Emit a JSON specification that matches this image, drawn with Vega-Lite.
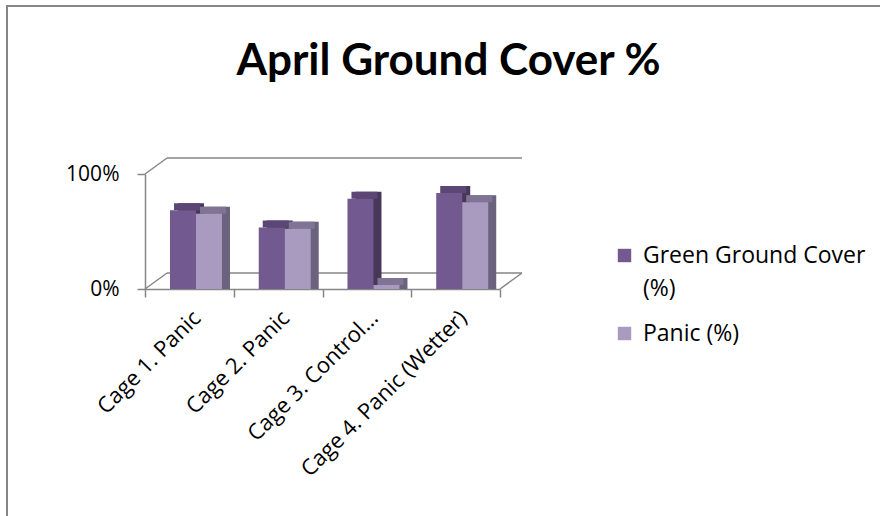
{
  "$schema": "https://vega.github.io/schema/vega-lite/v6.json",
  "usermeta": {"embedOptions": {"actions": false}},
  "autosize": "none",
  "padding": {"left": 7, "top": 6, "right": -20, "bottom": -20},
  "width": 893,
  "height": 530,
  "background": "white",
  "config": {
    "view": {"stroke": "#868686", "strokeWidth": 2},
    "font": "Open Sans"
  },
  "title": {
    "text": "April Ground Cover %",
    "font": "Lato",
    "fontSize": 44,
    "fontWeight": "bold",
    "color": "#000000",
    "anchor": "middle",
    "frame": "group",
    "offset": -113,
    "baseline": "alphabetic",
    "dx": -5
  },
  "datasets": {
    "bars": [
      {"category": "Cage 1. Panic", "series": "Green Ground Cover (%)", "value": 0.65},
      {"category": "Cage 1. Panic", "series": "Panic (%)", "value": 0.62},
      {"category": "Cage 2. Panic", "series": "Green Ground Cover (%)", "value": 0.50},
      {"category": "Cage 2. Panic", "series": "Panic (%)", "value": 0.49},
      {"category": "Cage 3. Control...", "series": "Green Ground Cover (%)", "value": 0.75},
      {"category": "Cage 3. Control...", "series": "Panic (%)", "value": 0},
      {"category": "Cage 4. Panic (Wetter)", "series": "Green Ground Cover (%)", "value": 0.80},
      {"category": "Cage 4. Panic (Wetter)", "series": "Panic (%)", "value": 0.72}
    ],
    "wall": [{"level": 0}, {"level": 1}]
  },
  "data": {"name": "bars"},
  "encoding": {
    "x": {
      "field": "category",
      "type": "nominal",
      "sort": ["Cage 1. Panic", "Cage 2. Panic", "Cage 3. Control...", "Cage 4. Panic (Wetter)"],
      "scale": {"type": "band", "domain": ["Cage 1. Panic", "Cage 2. Panic", "Cage 3. Control...", "Cage 4. Panic (Wetter)"], "range": [138, 493], "paddingInner": 0, "paddingOuter": 0},
      "axis": {
        "title": null,
        "offset": -247,
        "labelAngle": -45,
        "tickBand": "extent",
        "domainColor": "#868686",
        "domainWidth": 1.5,
        "tickColor": "#868686",
        "tickWidth": 1.5,
        "tickSize": 8,
        "labelFont": "Open Sans",
        "labelFontSize": 22,
        "labelColor": "#000000",
        "labelPadding": 10,
        "labelDx": -3,
        "labelDy": -5,
        "labelLimit": 0,
        "labelOverlap": false
      }
    },
    "y": {
      "field": "value",
      "type": "quantitative",
      "stack": null,
      "scale": {"domain": [0, 1], "range": [283, 168], "nice": false},
      "axis": {
        "title": null,
        "values": [0, 1],
        "format": ".0%",
        "offset": -138,
        "grid": false,
        "domainColor": "#868686",
        "domainWidth": 1.5,
        "tickColor": "#868686",
        "tickWidth": 1.5,
        "tickSize": 8,
        "labelPadding": 18,
        "labelFont": "Open Sans",
        "labelFontSize": 21,
        "labelColor": "#000000"
      }
    }
  },
  "layer": [
    {
      "data": {"name": "wall"},
      "mark": {"type": "rule", "color": "#868686", "strokeWidth": 1.5, "xOffset": 22, "x2Offset": 22, "yOffset": -16},
      "encoding": {
        "x": {"datum": "Cage 1. Panic", "bandPosition": 0},
        "x2": {"datum": "Cage 4. Panic (Wetter)", "bandPosition": 1},
        "y": {"field": "level", "type": "quantitative"}
      }
    },
    {
      "data": {"name": "wall"},
      "mark": {"type": "rule", "color": "#868686", "strokeWidth": 1.5, "x2Offset": 22, "y2Offset": -16},
      "encoding": {
        "x": {"datum": "Cage 1. Panic", "bandPosition": 0},
        "x2": {"datum": "Cage 1. Panic", "bandPosition": 0},
        "y": {"field": "level", "type": "quantitative"},
        "y2": {"field": "level"}
      }
    },
    {
      "data": {"name": "wall"},
      "transform": [{"filter": "datum.level == 0"}],
      "mark": {"type": "rule", "color": "#868686", "strokeWidth": 1.5, "x2Offset": 22, "y2Offset": -16},
      "encoding": {
        "x": {"datum": "Cage 4. Panic (Wetter)", "bandPosition": 1},
        "x2": {"datum": "Cage 4. Panic (Wetter)", "bandPosition": 1},
        "y": {"field": "level", "type": "quantitative"},
        "y2": {"field": "level"}
      }
    },
    {
      "transform": [{"filter": "datum.series == 'Green Ground Cover (%)'"}],
      "mark": {"type": "bar", "color": "#473859", "width": {"band": 0.293}, "xOffset": 1.6, "yOffset": -11, "y2Offset": -11}
    },
    {
      "transform": [{"filter": "datum.series == 'Panic (%)'"}],
      "mark": {"type": "bar", "color": "#6b637e", "width": {"band": 0.293}, "xOffset": 27.6, "yOffset": -11, "y2Offset": -11}
    },
    {
      "transform": [{"filter": "datum.series == 'Green Ground Cover (%)'"}],
      "mark": {"type": "bar", "color": "#5b4675", "width": {"band": 0.293}, "xOffset": -2.4, "yOffset": -11, "y2Offset": -4},
      "encoding": {"y2": {"field": "value"}}
    },
    {
      "transform": [{"filter": "datum.series == 'Panic (%)'"}],
      "mark": {"type": "bar", "color": "#807494", "width": {"band": 0.293}, "xOffset": 23.6, "yOffset": -11, "y2Offset": -4},
      "encoding": {"y2": {"field": "value"}}
    },
    {
      "transform": [{"filter": "datum.series == 'Green Ground Cover (%)'"}],
      "mark": {"type": "bar", "width": {"band": 0.293}, "xOffset": -6.4, "yOffset": -4, "y2Offset": -4},
      "encoding": {
        "color": {
          "field": "series",
          "type": "nominal",
          "scale": {"domain": ["Green Ground Cover (%)", "Panic (%)"], "range": ["#72598f", "#a99bbf"]},
          "legend": {
            "title": null,
            "orient": "none",
            "legendX": 606,
            "legendY": 238,
            "symbolType": "square",
            "symbolSize": 180,
            "symbolStrokeWidth": 0,
            "labelFont": "Open Sans",
            "labelFontSize": 23,
            "labelColor": "#000000",
            "labelOffset": 7,
            "rowPadding": 21,
            "labelLimit": 0,
            "labelExpr": "datum.label == 'Green Ground Cover (%)' ? ['Green Ground Cover', '(%)'] : datum.label",
            "encoding": {"labels": {"lineHeight": {"value": 33}}}
          }
        }
      }
    },
    {
      "transform": [{"filter": "datum.series == 'Panic (%)'"}],
      "mark": {"type": "bar", "width": {"band": 0.293}, "xOffset": 19.6, "yOffset": -4, "y2Offset": -4},
      "encoding": {
        "color": {
          "field": "series",
          "type": "nominal",
          "scale": {"domain": ["Green Ground Cover (%)", "Panic (%)"], "range": ["#72598f", "#a99bbf"]},
          "legend": {
            "title": null,
            "orient": "none",
            "legendX": 606,
            "legendY": 238,
            "symbolType": "square",
            "symbolSize": 180,
            "symbolStrokeWidth": 0,
            "labelFont": "Open Sans",
            "labelFontSize": 23,
            "labelColor": "#000000",
            "labelOffset": 7,
            "rowPadding": 21,
            "labelLimit": 0,
            "labelExpr": "datum.label == 'Green Ground Cover (%)' ? ['Green Ground Cover', '(%)'] : datum.label",
            "encoding": {"labels": {"lineHeight": {"value": 33}}}
          }
        }
      }
    }
  ]
}
